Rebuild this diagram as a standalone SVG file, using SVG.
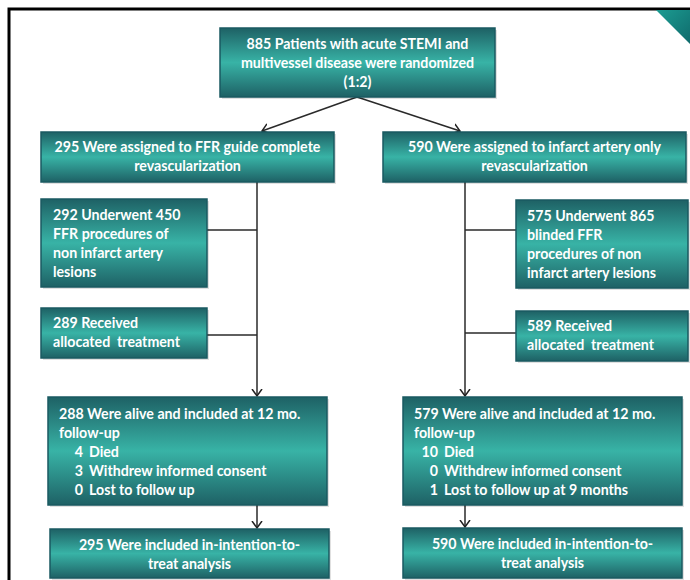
<svg xmlns="http://www.w3.org/2000/svg" width="690" height="580" viewBox="0 0 690 580">
<defs>
<linearGradient id="boxg" x1="0" y1="0" x2="0" y2="1">
<stop offset="0" stop-color="#1e6165"/>
<stop offset="0.5" stop-color="#38b3a6"/>
<stop offset="1" stop-color="#1e6165"/>
</linearGradient>
<linearGradient id="corner" x1="0" y1="0" x2="1" y2="1">
<stop offset="0" stop-color="#1c9c92"/>
<stop offset="1" stop-color="#0f6b6c"/>
</linearGradient>
<marker id="arr" markerUnits="userSpaceOnUse" markerWidth="14" markerHeight="14" viewBox="-7 -7 14 14" refX="0" refY="0" orient="auto">
<polyline points="-7,-5 0,0 -7,5" fill="none" stroke="#222" stroke-width="1.5"/>
</marker>
</defs>
<style>
.box{fill:url(#boxg);stroke:#1a5a61;stroke-width:1.5}
.sh{fill:#000;opacity:0.12}
.t{font-family:Lato,"Open Sans","Liberation Sans",sans-serif;font-weight:700;font-size:14.2px;fill:#fff}
.c{text-anchor:middle}
.ln{stroke:#2a2a2a;stroke-width:1.5;fill:none}
</style>
<rect width="690" height="580" fill="#fff"/>
<g id="frame">
<path d="M9,580 L9,9 L690,9" fill="none" stroke="#000" stroke-width="3"/>
<polygon points="656,10 690,10 690,44" fill="url(#corner)"/>
</g>
<g id="connectors">
<line class="ln" x1="357" y1="97" x2="262" y2="131" marker-end="url(#arr)"/>
<line class="ln" x1="357" y1="97" x2="460" y2="131" marker-end="url(#arr)"/>
<line class="ln" x1="257" y1="182" x2="257" y2="396" marker-end="url(#arr)"/>
<line class="ln" x1="465" y1="182" x2="465" y2="396" marker-end="url(#arr)"/>
<line class="ln" x1="207" y1="230" x2="257" y2="230"/>
<line class="ln" x1="207" y1="335" x2="257" y2="335"/>
<line class="ln" x1="465" y1="230" x2="516" y2="230"/>
<line class="ln" x1="465" y1="333" x2="516" y2="333"/>
<line class="ln" x1="257" y1="505" x2="257" y2="528" marker-end="url(#arr)"/>
<line class="ln" x1="465" y1="505" x2="465" y2="527" marker-end="url(#arr)"/>
</g>
<g id="n_top">
<rect class="sh" x="222" y="30" width="275" height="69"/>
<rect class="box" x="220" y="28" width="275" height="69"/>
<text class="t c" x="357.5" y="49">885 Patients with acute STEMI and</text>
<text class="t c" x="357.5" y="68">multivessel disease were randomized</text>
<text class="t c" x="357.5" y="87">(1:2)</text>
</g>
<g id="n_l2">
<rect class="sh" x="43" y="134" width="293" height="50"/>
<rect class="box" x="41" y="132" width="293" height="50"/>
<text class="t c" x="187.5" y="152">295 Were assigned to FFR guide complete</text>
<text class="t c" x="187.5" y="171">revascularization</text>
</g>
<g id="n_r2">
<rect class="sh" x="385" y="134" width="303" height="50"/>
<rect class="box" x="383" y="132" width="303" height="50"/>
<text class="t c" x="534.5" y="152">590 Were assigned to infarct artery only</text>
<text class="t c" x="534.5" y="171">revascularization</text>
</g>
<g id="n_l3">
<rect class="sh" x="43" y="201" width="166" height="88"/>
<rect class="box" x="41" y="199" width="166" height="88"/>
<text class="t" x="53" y="220">292 Underwent 450</text>
<text class="t" x="53" y="239">FFR procedures of</text>
<text class="t" x="53" y="258">non infarct artery</text>
<text class="t" x="53" y="277">lesions</text>
</g>
<g id="n_r3">
<rect class="sh" x="518" y="202" width="172" height="88"/>
<rect class="box" x="516" y="200" width="172" height="88"/>
<text class="t" x="527" y="221">575 Underwent 865</text>
<text class="t" x="527" y="240">blinded FFR</text>
<text class="t" x="527" y="259">procedures of non</text>
<text class="t" x="527" y="278">infarct artery lesions</text>
</g>
<g id="n_l4">
<rect class="sh" x="43" y="310" width="166" height="50"/>
<rect class="box" x="41" y="308" width="166" height="50"/>
<text class="t" x="53" y="328">289 Received</text>
<text class="t" x="53" y="347" xml:space="preserve">allocated  treatment</text>
</g>
<g id="n_r4">
<rect class="sh" x="518" y="313" width="172" height="50"/>
<rect class="box" x="516" y="311" width="172" height="50"/>
<text class="t" x="527" y="331">589 Received</text>
<text class="t" x="527" y="350" xml:space="preserve">allocated  treatment</text>
</g>
<g id="n_l5">
<rect class="sh" x="50" y="399" width="279" height="108"/>
<rect class="box" x="48" y="397" width="279" height="108"/>
<text class="t" x="59" y="419">288 Were alive and included at 12 mo.</text>
<text class="t" x="59" y="438">follow-up</text>
<text class="t" x="83" y="457" text-anchor="end">4</text>
<text class="t" x="89" y="457">Died</text>
<text class="t" x="83" y="476" text-anchor="end">3</text>
<text class="t" x="89" y="476">Withdrew informed consent</text>
<text class="t" x="83" y="495" text-anchor="end">0</text>
<text class="t" x="89" y="495">Lost to follow up</text>
</g>
<g id="n_r5">
<rect class="sh" x="405" y="399" width="279" height="108"/>
<rect class="box" x="403" y="397" width="279" height="108"/>
<text class="t" x="414" y="419">579 Were alive and included at 12 mo.</text>
<text class="t" x="414" y="438">follow-up</text>
<text class="t" x="438" y="457" text-anchor="end">10</text>
<text class="t" x="444" y="457">Died</text>
<text class="t" x="438" y="476" text-anchor="end">0</text>
<text class="t" x="444" y="476">Withdrew informed consent</text>
<text class="t" x="438" y="495" text-anchor="end">1</text>
<text class="t" x="444" y="495">Lost to follow up at 9 months</text>
</g>
<g id="n_l6">
<rect class="sh" x="52" y="531" width="279" height="50"/>
<rect class="box" x="50" y="529" width="279" height="49"/>
<text class="t c" x="189.5" y="550">295 Were included in-intention-to-</text>
<text class="t c" x="189.5" y="569">treat analysis</text>
</g>
<g id="n_r6">
<rect class="sh" x="405" y="530" width="279" height="50"/>
<rect class="box" x="403" y="528" width="279" height="50"/>
<text class="t c" x="542.5" y="549">590 Were included in-intention-to-</text>
<text class="t c" x="542.5" y="568">treat analysis</text>
</g>
</svg>
